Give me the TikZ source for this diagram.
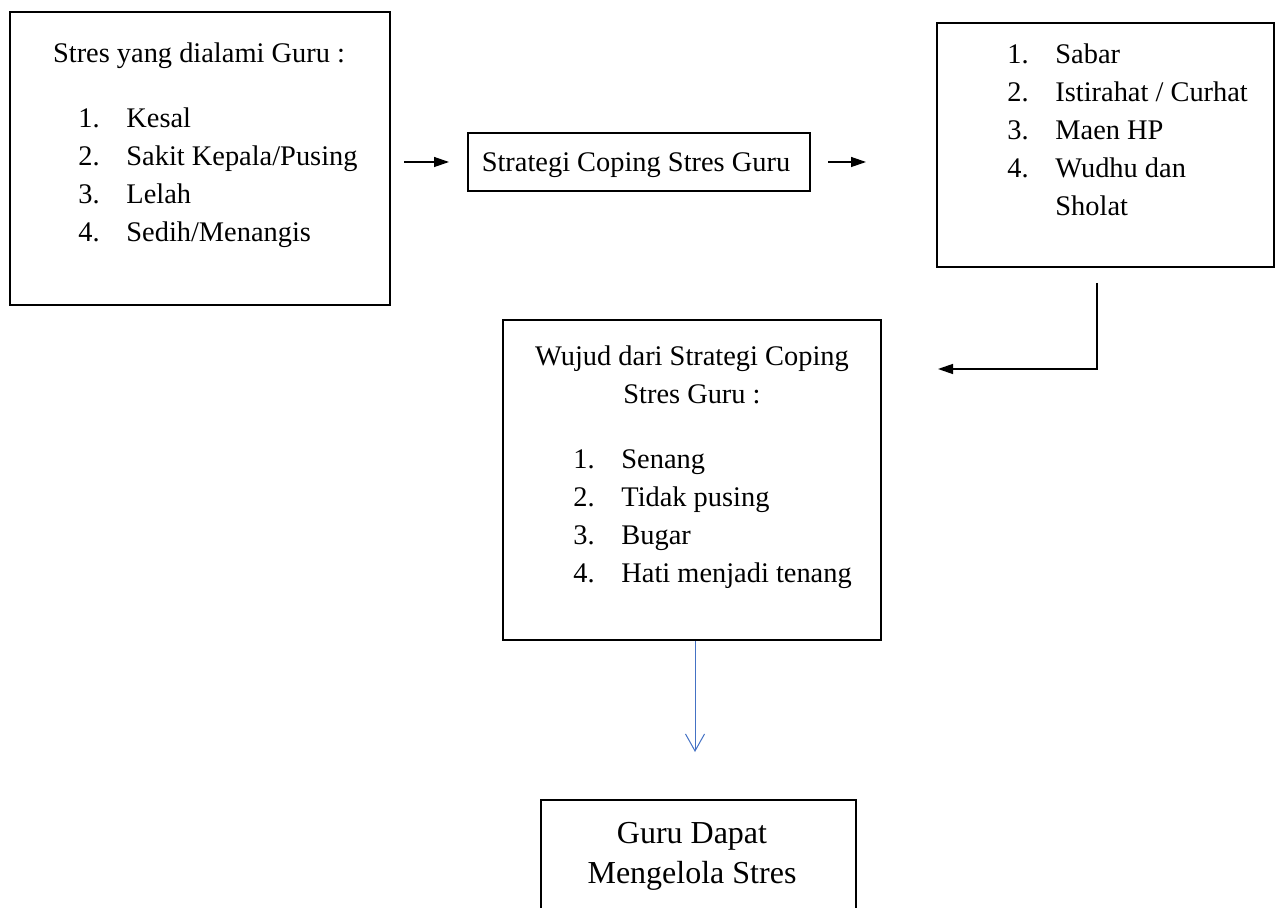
\documentclass[tikz,border=0pt]{standalone}
\usepackage{fontspec}
\setmainfont{Liberation Serif}
\usetikzlibrary{arrows.meta,positioning,calc}
\definecolor{garisbiru}{HTML}{4472C4}
\tikzstyle{kotak} = [draw, line width=1pt, rectangle, inner sep=0pt]
\tikzstyle{teks} = [inner sep=0pt, anchor=base west, font=\fontsize{14.2}{19}\selectfont]
\tikzstyle{panah} = [-{Triangle[length=7.5pt,width=5pt]}, line width=0.65pt]

\begin{document}
\begin{tikzpicture}[x=0.5pt,y=-0.5pt]
    \useasboundingbox (0,0) rectangle (1277,908);
    \clip (0,0) rectangle (1277,908);

    % Kotak-kotak
    \node[kotak, minimum width=190pt, minimum height=146.5pt] (stres) at (200,158.5) {};
    \node[kotak, minimum width=171pt, minimum height=29pt] (strategi) at (639,162) {};
    \node[kotak, minimum width=168.5pt, minimum height=122pt] (cara) at (1105.5,145) {};
    \node[kotak, minimum width=189pt, minimum height=160pt] (wujud) at (692,480) {};
    \node[kotak, minimum width=157.5pt, minimum height=70pt] (kelola) at (698.5,870) {};

    % Stres yang dialami
    \node[teks, anchor=base] (judulstres) at (199,63) {Stres yang dialami Guru :};
    \foreach \t [count=\i] in {Kesal, Sakit Kepala/Pusing, Lelah, Sedih/Menangis} {
        \node[teks] (nostres\i) at (78,{128+38*(\i-1)}) {\i.};
        \node[teks] (isistres\i) at (126,{128+38*(\i-1)}) {\t};
    }

    % Strategi coping
    \node[teks, anchor=base] (judulstrategi) at (636,172) {Strategi Coping Stres Guru};

    % Cara coping
    \foreach \t [count=\i] in {Sabar, Istirahat / Curhat, Maen HP, Wudhu dan} {
        \node[teks] (nocara\i) at (1007,{64+38*(\i-1)}) {\i.};
        \node[teks] (isicara\i) at (1055,{64+38*(\i-1)}) {\t};
    }
    \node[teks] (isicara5) at (1055,216) {Sholat};

    % Wujud strategi
    \node[teks, anchor=base] (judulwujud1) at (692,365) {Wujud dari Strategi Coping};
    \node[teks, anchor=base] (judulwujud2) at (692,403) {Stres Guru :};
    \foreach \t [count=\i] in {Senang, Tidak pusing, Bugar, Hati menjadi tenang} {
        \node[teks] (nowujud\i) at (573,{468+38*(\i-1)}) {\i.};
        \node[teks] (isiwujud\i) at (621,{468+38*(\i-1)}) {\t};
    }

    % Hasil akhir
    \node[teks, anchor=base, font=\fontsize{16}{20}\selectfont] (kelola1) at (692,843) {Guru Dapat};
    \node[teks, anchor=base, font=\fontsize{16}{20}\selectfont] (kelola2) at (692,883) {Mengelola Stres};

    % Panah
    \coordinate (belok) at (1097,283);
    \coordinate (ujung) at (938,369);
    \draw[panah, shorten <=6.5pt, shorten >=9pt] (stres.east |- strategi.west) -- (strategi.west);
    \draw[panah, shorten <=8.5pt, shorten >=35pt] (strategi.east) -- (strategi.east -| cara.west);
    \draw[panah] (belok) |- (ujung);
    \draw[garisbiru, line width=0.5pt, -{Straight Barb[length=8.5pt,width=9.5pt]}, shorten >=23.5pt]
        ([xshift=1.5pt]wujud.south) -- ([xshift=1.5pt]wujud.south |- kelola.north);
\end{tikzpicture}
\end{document}
